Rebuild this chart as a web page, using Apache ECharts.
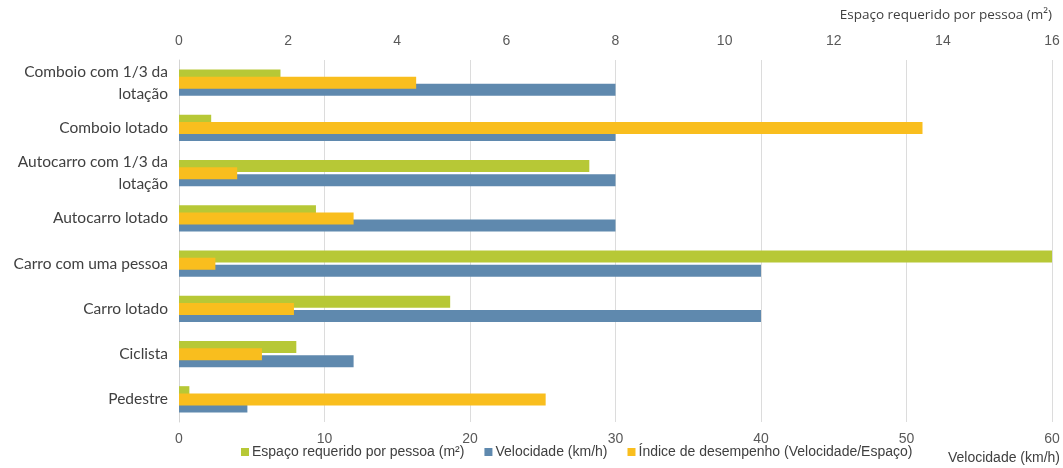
<!DOCTYPE html>
<html>
<head>
<meta charset="utf-8">
<script src="https://cdn.jsdelivr.net/npm/echarts@6/dist/echarts.min.js"></script>
<style>
  html, body { margin: 0; padding: 0; background: #fff; }
  #chart { width: 1063px; height: 468px; }
</style>
</head>
<body>
<div id="chart"></div>
<script>
// categorias (de cima para baixo)
var categorias = [
    'Comboio com 1/3 da\nlotação',
    'Comboio lotado',
    'Autocarro com 1/3 da\nlotação',
    'Autocarro lotado',
    'Carro com uma pessoa',
    'Carro lotado',
    'Ciclista',
    'Pedestre'
];
// espaço requerido por pessoa (m2) - eixo de cima
var espaco = [1.86, 0.59, 7.52, 2.51, 16, 4.97, 2.15, 0.19];
// velocidade (km/h) - eixo de baixo
var velocidade = [30, 30, 30, 30, 40, 40, 12, 4.7];
// indice de desempenho (velocidade/espaco) - eixo de baixo
var indice = [16.3, 51.1, 4.0, 12.0, 2.5, 7.9, 5.7, 25.2];

var ticksVelocidade = [0, 60, 10];
var ticksEspaco = [0, 16, 2];

var nomes = {
    espaco: 'Espaço requerido por pessoa (m²)',
    velocidade: 'Velocidade (km/h)',
    indice: 'Índice de desempenho (Velocidade/Espaço)'
};

var cores = {
    espaco: '#b7c836',
    velocidade: '#5f89ae',
    indice: '#f9be1e'
};

var fonteNum = "'Liberation Sans Narrow', 'Liberation Sans', sans-serif";

var chart = echarts.init(document.getElementById('chart'));

var option = {
    backgroundColor: '#fff',
    animation: false,
    grid: {
        left: 179,
        right: 11,
        top: 60,
        bottom: 46
    },
    legend: {
        data: [nomes.espaco, nomes.velocidade, nomes.indice],
        bottom: 4,
        left: 236,
        itemWidth: 8,
        itemHeight: 8,
        itemGap: 20,
        icon: 'rect',
        textStyle: {
            fontFamily: fonteNum,
            fontSize: 14,
            color: '#404040',
            padding: [0, 0, 0, -2]
        }
    },
    graphic: [{
        type: 'text',
        right: 11,
        top: 8,
        style: {
            text: nomes.espaco,
            font: "13.5px 'Open Sans', sans-serif",
            fill: '#404040'
        }
    }, {
        type: 'text',
        right: 3,
        top: 451,
        style: {
            text: nomes.velocidade,
            font: "14px " + fonteNum,
            fill: '#404040'
        }
    }],
    xAxis: [{
        type: 'value',
        position: 'bottom',
        min: ticksVelocidade[0],
        max: ticksVelocidade[1],
        interval: ticksVelocidade[2],
        axisLine: { show: false },
        axisTick: { show: false },
        axisLabel: {
            margin: 10,
            fontFamily: fonteNum,
            fontSize: 14,
            color: '#595959'
        },
        splitLine: { lineStyle: { color: '#dcdcdc', width: 1 } }
    }, {
        type: 'value',
        position: 'top',
        min: ticksEspaco[0],
        max: ticksEspaco[1],
        interval: ticksEspaco[2],
        axisLine: { show: false },
        axisTick: { show: false },
        axisLabel: {
            margin: 12,
            fontFamily: fonteNum,
            fontSize: 14,
            color: '#595959'
        },
        splitLine: { show: false }
    }],
    yAxis: {
        type: 'category',
        inverse: true,
        data: categorias,
        axisLine: { show: true, lineStyle: { color: '#d4d4d4' } },
        axisTick: { show: false },
        axisLabel: {
            margin: 11,
            fontFamily: "Lato, 'Open Sans', sans-serif",
            fontSize: 15.5,
            lineHeight: 22,
            padding: [0, 0, 8, 0],
            color: '#404040'
        }
    },
    series: [{
        name: nomes.espaco,
        type: 'bar',
        xAxisIndex: 1,
        data: espaco,
        barWidth: 12,
        barGap: '-40%',
        itemStyle: { color: cores.espaco },
        z: 2
    }, {
        name: nomes.indice,
        type: 'bar',
        xAxisIndex: 0,
        data: indice,
        barWidth: 12,
        barGap: '-40%',
        itemStyle: { color: cores.indice },
        z: 4
    }, {
        name: nomes.velocidade,
        type: 'bar',
        xAxisIndex: 0,
        data: velocidade,
        barWidth: 12,
        barGap: '-40%',
        itemStyle: { color: cores.velocidade },
        z: 3
    }]
};

chart.setOption(option);
window.addEventListener('resize', function() {
    chart.resize();
});
</script>
</body>
</html>
